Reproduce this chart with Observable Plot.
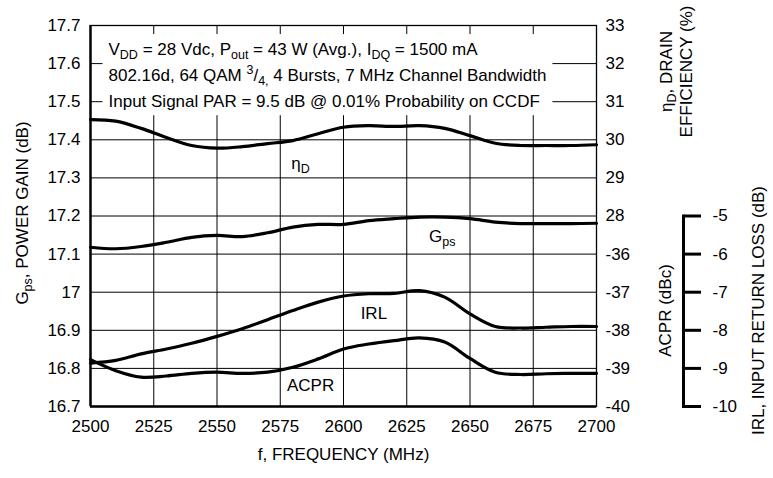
<!DOCTYPE html>
<html><head><meta charset="utf-8">
<script src="https://cdn.jsdelivr.net/npm/d3@7"></script>
<script src="https://cdn.jsdelivr.net/npm/@observablehq/plot@0.6"></script>
<style>
body{margin:0;background:#fff;}
</style></head><body><div id="chart"></div>
<script>
// ---- data ----
const freq = [2500,2510,2520,2530,2540,2550,2560,2570,2580,2590,2600,2610,2620,2630,2640,2650,2660,2670,2680,2690,2700];
const gps  = [17.118,17.114,17.12,17.131,17.144,17.149,17.146,17.156,17.171,17.178,17.178,17.188,17.193,17.197,17.197,17.193,17.184,17.18,17.18,17.18,17.181];
const eff  = [30.53,30.49,30.3,30.06,29.85,29.78,29.82,29.9,29.98,30.16,30.33,30.37,30.35,30.37,30.3,30.11,29.91,29.85,29.85,29.85,29.87];
const irl  = [-8.86,-8.79,-8.62,-8.49,-8.34,-8.16,-7.96,-7.72,-7.48,-7.26,-7.1,-7.04,-7.03,-6.96,-7.13,-7.57,-7.9,-7.94,-7.92,-7.9,-7.9];
const acpr = [-38.77,-39.06,-39.23,-39.2,-39.13,-39.1,-39.13,-39.1,-38.97,-38.75,-38.49,-38.36,-38.27,-38.2,-38.31,-38.74,-39.1,-39.16,-39.14,-39.13,-39.13];

const freqTicks = [2500,2525,2550,2575,2600,2625,2650,2675,2700];
const gainTicks = [16.7,16.8,16.9,17,17.1,17.2,17.3,17.4,17.5,17.6,17.7];
const effTicks  = [33,32,31,30,29,28];
const acprTicks = [-36,-37,-38,-39,-40];
const irlTicks  = [-5,-6,-7,-8,-9,-10];

const annotation = [
  "V_{DD} = 28 Vdc, P_{out} = 43 W (Avg.), I_{DQ} = 1500 mA",
  "802.16d, 64 QAM ^{3}/_{4,} 4 Bursts, 7 MHz Channel Bandwidth",
  "Input Signal PAR = 9.5 dB @ 0.01% Probability on CCDF"
];
const labelNames  = ["η_{D}", "G_{ps}", "IRL", "ACPR"];
const labelSeries = ["eff", "gps", "irl", "acpr"];
const labelFreqs  = [2583, 2639, 2612, 2587];
const labelValues = [29.38, 17.146, -7.56, -39.45];

// ---- secondary scales mapped onto the power-gain axis ----
const effToG  = e => 17.7 - (33 - e) / 10;
const acprToG = a => 16.7 + (a + 40) / 10;
const irlToG  = r => 16.7 + (r + 10) / 10;
const toG = {gps: v => v, eff: effToG, acpr: acprToG, irl: irlToG};

const rows = freq.map((f, i) => ({f, gps: gps[i], eff: effToG(eff[i]), irl: irlToG(irl[i]), acpr: acprToG(acpr[i])}));
const labels = labelNames.map((t, i) => ({t, f: labelFreqs[i], g: toG[labelSeries[i]](labelValues[i])}));

const fmt = v => String(v).replace("\u2212", "-");
const rightPos = effTicks.map(effToG).concat(acprTicks.map(acprToG));
const rightLab = new Map(rightPos.map((p, i) => [p.toFixed(3), fmt(effTicks.concat(acprTicks)[i])]));
const irlPos = irlTicks.map(irlToG);
const irlLab = new Map(irlPos.map((p, i) => [p.toFixed(3), fmt(irlTicks[i])]));

const xDom = [freqTicks[0], freqTicks[freqTicks.length - 1]];
const yDom = [gainTicks[0], gainTicks[gainTicks.length - 1]];

const seriesLine = key => Plot.line(rows, {x: "f", y: key, curve: "catmull-rom", stroke: "black", strokeWidth: 3.2});

const svg = Plot.plot({
  width: 773, height: 478,
  marginLeft: 90, marginRight: 177, marginTop: 25, marginBottom: 72,
  style: {fontFamily: "'Liberation Sans', Arial, sans-serif", fontSize: "17px", color: "black", background: "white"},
  x: {domain: xDom, label: null},
  y: {domain: yDom, label: null},
  marks: [
    Plot.gridX(freqTicks, {stroke: "black", strokeOpacity: 1, strokeWidth: 1}),
    Plot.gridY(gainTicks, {stroke: "black", strokeOpacity: 1, strokeWidth: 1}),
    Plot.frame({stroke: "black", strokeWidth: 1.3}),
    Plot.ruleX([xDom[0]], {stroke: "black", strokeWidth: 2.4}),
    Plot.ruleY([yDom[0]], {stroke: "black", strokeWidth: 2.4}),
    Plot.axisX(freqTicks, {tickSize: 0, tickPadding: 13, tickFormat: d => String(d)}),
    Plot.axisY(gainTicks, {anchor: "left", tickSize: 0, tickPadding: 10, tickFormat: d => String(d)}),
    Plot.axisY(rightPos, {anchor: "right", tickSize: 0, tickPadding: 9, tickFormat: d => rightLab.get(d.toFixed(3))}),
    Plot.axisY(irlPos, {anchor: "right", dx: 87, tickSize: 17, tickPadding: 12, strokeWidth: 3, tickFormat: d => irlLab.get(d.toFixed(3))}),
    Plot.link([0], {x1: () => xDom[1], x2: () => xDom[1], y1: () => irlToG(irlTicks[0]), y2: () => irlToG(irlTicks[irlTicks.length - 1]), dx: 87, stroke: "black", strokeWidth: 3, strokeLinecap: "square"}),
    seriesLine("eff"), seriesLine("gps"), seriesLine("irl"), seriesLine("acpr"),
    Plot.text(labels, {x: "f", y: "g", text: "t", fill: "black"}),
    Plot.text([annotation.join("\n")], {frameAnchor: "top-left", dx: 18, dy: 11, textAnchor: "start", lineAnchor: "top", lineHeight: 1.535, fill: "black"}),
    Plot.text(["G_{ps}, POWER GAIN (dB)"], {frameAnchor: "left", rotate: -90, dx: -68, dy: -3, textAnchor: "middle", lineAnchor: "middle"}),
    Plot.text(["f, FREQUENCY (MHz)"], {frameAnchor: "bottom", dy: 48, textAnchor: "middle", lineAnchor: "middle"}),
    Plot.text(["η_{D}, DRAIN\nEFFICIENCY (%)"], {frameAnchor: "top-right", rotate: -90, dx: 79, dy: 46, textAnchor: "middle", lineAnchor: "middle", lineHeight: 1.18}),
    Plot.text(["ACPR (dBc)"], {frameAnchor: "right", rotate: -90, dx: 69, dy: 94.5, textAnchor: "middle", lineAnchor: "middle"}),
    Plot.text(["IRL, INPUT RETURN LOSS (dB)"], {frameAnchor: "right", rotate: -90, dx: 162, dy: 94.5, textAnchor: "middle", lineAnchor: "middle"})
  ]
});
document.getElementById("chart").appendChild(svg);

// ---- rich text: _{sub} and ^{sup} ----
const NS = "http://www.w3.org/2000/svg";
svg.querySelectorAll("text, tspan").forEach(el => {
  if (el.children.length) return;
  const s = el.textContent;
  if (!/[_^]\{/.test(s)) return;
  el.textContent = "";
  const re = /([_^])\{([^}]*)\}|([^_^]+|[_^])/g;
  let shift = 0, m;
  while ((m = re.exec(s))) {
    const t = document.createElementNS(NS, "tspan");
    let target = 0;
    if (m[1] === "_") { target = 4; t.setAttribute("font-size", "12.5px"); t.textContent = m[2]; }
    else if (m[1] === "^") { target = -7; t.setAttribute("font-size", "12.5px"); t.textContent = m[2]; }
    else { t.textContent = m[3]; }
    if (target !== shift) t.setAttribute("dy", target - shift);
    shift = target;
    el.appendChild(t);
  }
});

// ---- white box behind the annotation ----
const ann = [...svg.querySelectorAll("text")].find(t => t.textContent.includes("CCDF"));
if (ann) {
  let g = ann; while (g.parentNode && g.parentNode !== svg) g = g.parentNode;
  const sb = svg.getBoundingClientRect(), tb = ann.getBoundingClientRect();
  const r = document.createElementNS(NS, "rect");
  r.setAttribute("x", tb.left - sb.left - 6);
  r.setAttribute("y", tb.top - sb.top - 6);
  r.setAttribute("width", tb.width + 12);
  r.setAttribute("height", tb.height + 10);
  r.setAttribute("fill", "white");
  svg.insertBefore(r, g);
}
</script></body></html>
